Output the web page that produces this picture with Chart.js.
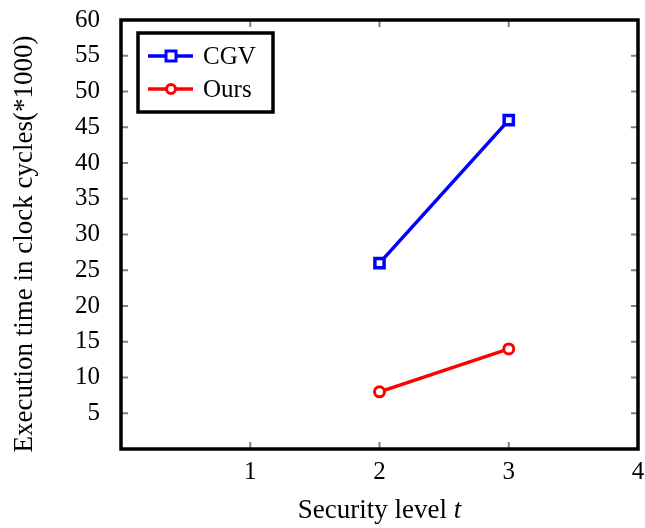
<!DOCTYPE html>
<html>
<head>
<meta charset="utf-8">
<script src="https://cdn.jsdelivr.net/npm/chart.js@4/dist/chart.umd.min.js"></script>
<style>
  html, body { margin: 0; padding: 0; background: #fff; }
  #wrap { width: 645px; height: 528px; }
</style>
</head>
<body>
<div id="wrap"><canvas id="chart" width="645" height="528"></canvas></div>
<script>
const securityLevels = [2, 3];
const cgvTimes = [26, 46];
const oursTimes = [8, 14];
const xTicks = [1, 2, 3, 4];
const yTicks = [5, 10, 15, 20, 25, 30, 35, 40, 45, 50, 55, 60];

const serif = '"Liberation Serif", "DejaVu Serif", serif';

// pgfplots-style frame: inward grey ticks + thick black box + legend in the corner
const framePlugin = {
  id: 'frame',
  afterDatasetsDraw(chart) {
    const ctx = chart.ctx;
    const a = chart.chartArea;
    const xs = chart.scales.x, ys = chart.scales.y;
    ctx.save();
    ctx.strokeStyle = '#808080';
    ctx.lineWidth = 2;
    xTicks.forEach(v => {
      const px = xs.getPixelForValue(v);
      ctx.beginPath();
      ctx.moveTo(px, a.bottom); ctx.lineTo(px, a.bottom - 7);
      ctx.moveTo(px, a.top); ctx.lineTo(px, a.top + 7);
      ctx.stroke();
    });
    yTicks.forEach(v => {
      const py = ys.getPixelForValue(v);
      ctx.beginPath();
      ctx.moveTo(a.left, py); ctx.lineTo(a.left + 7, py);
      ctx.moveTo(a.right, py); ctx.lineTo(a.right - 7, py);
      ctx.stroke();
    });
    ctx.strokeStyle = '#000';
    ctx.lineWidth = 3.5;
    ctx.strokeRect(a.left, a.top, a.right - a.left, a.bottom - a.top);

    // x axis title with italic t
    ctx.fillStyle = '#000';
    ctx.textBaseline = 'middle';
    ctx.textAlign = 'left';
    const part1 = 'Security level ';
    ctx.font = '27px ' + serif;
    const w1 = ctx.measureText(part1).width;
    ctx.font = 'italic 27px ' + serif;
    const w2 = ctx.measureText('t').width;
    const cx = (a.left + a.right) / 2;
    let tx = cx - (w1 + w2) / 2;
    ctx.font = '27px ' + serif;
    ctx.fillText(part1, tx, 511);
    ctx.font = 'italic 27px ' + serif;
    ctx.fillText('t', tx + w1, 511);

    // y axis title
    ctx.save();
    ctx.translate(25, 244);
    ctx.rotate(-Math.PI / 2);
    ctx.textAlign = 'center';
    ctx.font = '27px ' + serif;
    ctx.fillText('Execution time in clock cycles(*1000)', 0, 0);
    ctx.restore();

    // legend
    const lx = a.left + 17, ly = a.top + 13, lw = 135, lh = 79;
    ctx.fillStyle = '#fff';
    ctx.lineWidth = 3.5;
    ctx.fillRect(lx, ly, lw, lh);
    ctx.strokeRect(lx, ly, lw, lh);
    ctx.font = '25px ' + serif;
    ctx.textAlign = 'left';
    chart.data.datasets.forEach((ds, i) => {
      const y = ly + 23 + i * 33;
      ctx.strokeStyle = ds.borderColor;
      ctx.lineWidth = 3.5;
      ctx.beginPath();
      ctx.moveTo(lx + 10, y); ctx.lineTo(lx + 55, y);
      ctx.stroke();
      ctx.fillStyle = '#fff';
      ctx.lineWidth = 3;
      ctx.beginPath();
      if (ds.pointStyle === 'rect') {
        ctx.rect(lx + 28, y - 5, 10, 10);
      } else {
        ctx.arc(lx + 33, y, 4.5, 0, Math.PI * 2);
      }
      ctx.fill();
      ctx.stroke();
      ctx.fillStyle = '#000';
      ctx.fillText(ds.label, lx + 65, y + 1);
    });
    ctx.restore();
  }
};

new Chart(document.getElementById('chart').getContext('2d'), {
  type: 'line',
  data: {
    datasets: [{
      label: 'CGV',
      data: securityLevels.map((x, i) => ({ x: x, y: cgvTimes[i] })),
      borderColor: '#0000ff',
      backgroundColor: '#ffffff',
      borderWidth: 3.5,
      pointStyle: 'rect',
      pointRadius: 6.5,
      pointBorderWidth: 3.5
    }, {
      label: 'Ours',
      data: securityLevels.map((x, i) => ({ x: x, y: oursTimes[i] })),
      borderColor: '#ff0000',
      backgroundColor: '#ffffff',
      borderWidth: 3.5,
      pointStyle: 'circle',
      pointRadius: 5,
      pointBorderWidth: 3
    }]
  },
  options: {
    responsive: false,
    animation: false,
    layout: { autoPadding: false, padding: { left: 0, top: 20, right: 7, bottom: 0 } },
    plugins: { legend: { display: false }, tooltip: { enabled: false } },
    scales: {
      x: {
        type: 'linear',
        min: 0, max: 4,
        afterBuildTicks: s => { s.ticks = [0].concat(xTicks).map(v => ({ value: v })); },
        ticks: {
          callback: v => (v === 0 ? '' : v),
          color: '#000',
          font: { family: serif, size: 25 },
          padding: 0, maxRotation: 0
        },
        grid: { display: false },
        border: { display: false },
        title: { display: false },
        afterFit: s => { s.height = 79; s.paddingLeft = 0; s.paddingRight = 0; }
      },
      y: {
        min: 0, max: 60,
        afterBuildTicks: s => { s.ticks = [0].concat(yTicks).map(v => ({ value: v })); },
        ticks: {
          callback: v => (v === 0 ? '' : v),
          color: '#000',
          font: { family: serif, size: 25 },
          padding: 13
        },
        grid: { display: false },
        border: { display: false },
        title: { display: false },
        afterFit: s => { s.width = 121; s.paddingTop = 0; s.paddingBottom = 0; }
      }
    }
  },
  plugins: [framePlugin]
});
</script>
</body>
</html>
